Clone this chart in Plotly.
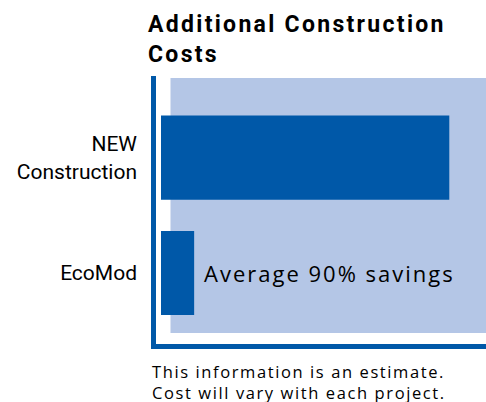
import plotly.graph_objects as go

# ---- data ----
categories = ["EcoMod", "NEW Construction"]
tick_labels = ["EcoMod", "NEW<br>Construction"]
cost_values = [11.5, 100]          # relative additional construction cost
title_lines = ["Additional Construction", "Costs"]
savings_note = "Average 90% savings"
footnote_lines = ["This information is an estimate.", "Cost will vary with each project."]

# ---- layout geometry (pixels) ----
W, H = 486, 402
ML, MR, MT, MB = 161, 0, 78, 69
PW, PH = W - ML - MR, H - MT - MB

def px(x):  # pixel x -> paper x
    return (x - ML) / PW

def py(y):  # pixel y -> paper y
    return (H - MB - y) / PH

def spaced(lines, ls):
    return "<br>".join(f'<span style="letter-spacing:{ls}px">{t}</span>' for t in lines)

DARK = "#0058A8"
LIGHT = "#B4C6E6"

fig = go.Figure()
fig.add_trace(go.Bar(
    x=cost_values, y=categories, orientation="h",
    marker=dict(color=DARK, line=dict(width=0)),
    hoverinfo="skip",
))

shapes = [
    dict(type="rect", xref="paper", yref="paper", x0=px(170.5), x1=1.02,
         y0=py(333), y1=py(78), fillcolor=LIGHT, line=dict(width=0), layer="below"),
    dict(type="rect", xref="paper", yref="paper", x0=px(151), x1=px(156),
         y0=py(349), y1=py(76), fillcolor=DARK, line=dict(width=0)),
    dict(type="rect", xref="paper", yref="paper", x0=px(156), x1=1.02,
         y0=py(349), y1=py(344), fillcolor=DARK, line=dict(width=0)),
]

SANS = "Open Sans, DejaVu Sans, sans-serif"
NARROW = "Roboto, Liberation Sans Narrow, sans-serif"

fig.update_layout(
    width=W, height=H, autosize=False,
    margin=dict(l=ML, r=MR, t=MT, b=MB, pad=0),
    paper_bgcolor="white", plot_bgcolor="rgba(0,0,0,0)",
    showlegend=False,
    bargap=0.27,
    shapes=shapes,
    title=dict(
        text=spaced(title_lines, 2.3),
        xref="container", yref="container", x=148 / W, xanchor="left",
        y=1 - 32 / H, yanchor="top",
        font=dict(family=NARROW, size=23, color="black", weight="bold"),
    ),
    xaxis=dict(range=[0, 112.73], visible=False, fixedrange=True),
    yaxis=dict(
        categoryorder="array", categoryarray=categories,
        tickmode="array", tickvals=categories, ticktext=tick_labels,
        range=[-0.52, 1.69], showgrid=False, zeroline=False, showline=False,
        ticks="", ticklabelstandoff=23,
        tickfont=dict(family=NARROW, size=21, color="black"),
        fixedrange=True,
    ),
    annotations=[
        dict(text=spaced([savings_note], 2),
             xref="x", yref="y", x=cost_values[0], y=categories[0],
             xanchor="left", yanchor="middle", xshift=8, showarrow=False,
             font=dict(family=SANS, size=22, color="black")),
        dict(text=spaced(footnote_lines, 1.6),
             xref="paper", yref="paper", x=px(150), y=py(358),
             xanchor="left", yanchor="top", align="left", showarrow=False,
             font=dict(family=SANS, size=16.5, color="black")),
    ],
)

fig.write_html("out.html", config={"displayModeBar": False},
               post_script="document.body.style.margin='0';document.body.style.overflow='hidden';")
